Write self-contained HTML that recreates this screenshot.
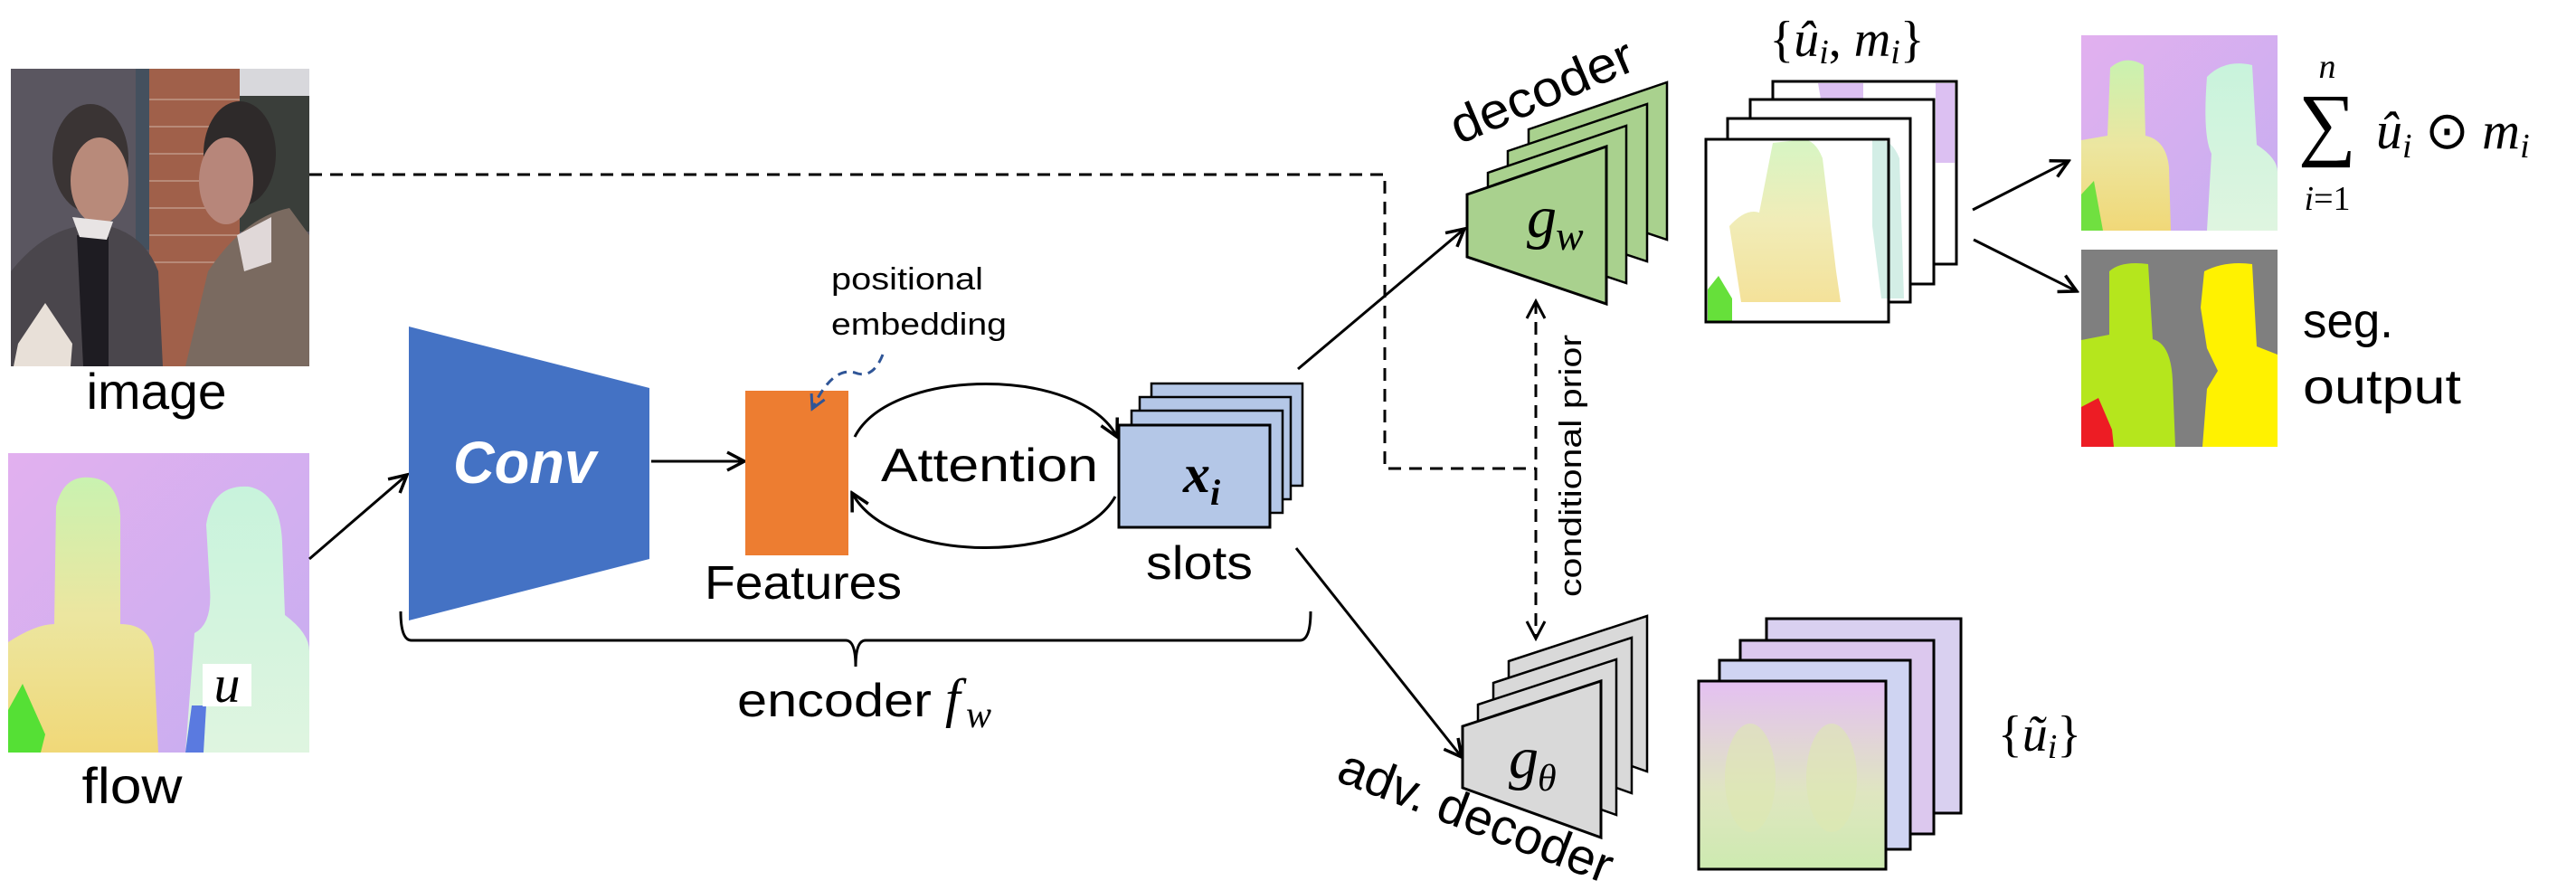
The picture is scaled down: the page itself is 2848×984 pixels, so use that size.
<!DOCTYPE html>
<html><head><meta charset="utf-8"><style>
html,body{margin:0;padding:0;background:#fff;}
svg{display:block;}
.t{font-family:"Liberation Sans",sans-serif;fill:#000;}
.m{font-family:"Liberation Serif",serif;font-style:italic;fill:#000;}
.r{font-family:"Liberation Serif",serif;fill:#000;}
</style></head><body>
<svg width="2848" height="984" viewBox="0 0 2848 984" xmlns="http://www.w3.org/2000/svg">
<defs>
<marker id="ahb" markerWidth="24" markerHeight="24" refX="21" refY="12" orient="auto" markerUnits="userSpaceOnUse">
<path d="M2,2 L21,12 L2,22" fill="none" stroke="#000" stroke-width="3.5"/></marker>
<marker id="ahs" markerWidth="24" markerHeight="24" refX="21" refY="12" orient="auto-start-reverse" markerUnits="userSpaceOnUse">
<path d="M2,2 L21,12 L2,22" fill="none" stroke="#000" stroke-width="3"/></marker>
<marker id="ahblue" markerWidth="20" markerHeight="20" refX="17" refY="10" orient="auto" markerUnits="userSpaceOnUse">
<path d="M2,2 L17,10 L2,18" fill="none" stroke="#2F5597" stroke-width="3"/></marker>
<linearGradient id="flowbg" x1="0" y1="0" x2="1" y2="1">
<stop offset="0" stop-color="#e2b0ef"/><stop offset="1" stop-color="#c6aef0"/></linearGradient>
<linearGradient id="body1" x1="0" y1="0" x2="0" y2="1">
<stop offset="0" stop-color="#c9f2b0"/><stop offset="0.5" stop-color="#ece6a0"/><stop offset="1" stop-color="#f0d878"/></linearGradient>
<linearGradient id="body2" x1="0" y1="0" x2="0" y2="1">
<stop offset="0" stop-color="#c8f3dc"/><stop offset="1" stop-color="#dff5e0"/></linearGradient>
<linearGradient id="pale2" x1="0" y1="0" x2="0" y2="1">
<stop offset="0" stop-color="#e4c0f2"/><stop offset="0.6" stop-color="#dfe6c0"/><stop offset="1" stop-color="#cdeab0"/></linearGradient>
</defs>

<!-- image photo -->
<g>
<rect x="12" y="76" width="330" height="329" fill="#5a5660"/>
<rect x="150" y="76" width="15" height="200" fill="#44505e"/>
<rect x="165" y="76" width="100" height="329" fill="#a0604a"/>
<g stroke="#d8c0b0" stroke-width="1.5" opacity="0.6">
<line x1="165" y1="110" x2="265" y2="110"/><line x1="165" y1="140" x2="265" y2="140"/><line x1="165" y1="170" x2="265" y2="170"/><line x1="165" y1="200" x2="265" y2="200"/><line x1="165" y1="230" x2="265" y2="230"/><line x1="165" y1="260" x2="265" y2="260"/><line x1="165" y1="290" x2="265" y2="290"/>
</g>
<rect x="265" y="76" width="77" height="30" fill="#d8d8dc"/>
<rect x="265" y="106" width="77" height="150" fill="#3a3e3a"/>
<ellipse cx="100" cy="175" rx="42" ry="60" fill="#3a3434"/>
<ellipse cx="110" cy="200" rx="32" ry="48" fill="#b88a7a"/>
<ellipse cx="265" cy="170" rx="40" ry="58" fill="#2e2a2a"/>
<ellipse cx="250" cy="200" rx="30" ry="48" fill="#b7867a"/>
<path d="M12,405 L12,300 Q60,240 120,250 Q160,260 175,300 L180,405 Z" fill="#4a464c"/>
<path d="M85,260 L120,262 L120,405 L92,405 Z" fill="#1e1c22"/>
<path d="M80,240 L125,245 L118,265 L88,262 Z" fill="#e8e4e4"/>
<path d="M205,405 L230,300 Q270,240 320,230 L342,260 L342,405 Z" fill="#7a6a60"/>
<path d="M262,260 L300,240 L300,290 L270,300 Z" fill="#e0d8d8"/>
<path d="M15,405 L20,380 L50,335 L80,380 L78,405 Z" fill="#e8e0d8"/>
</g>
<text class="t" x="173" y="452" font-size="56" text-anchor="middle" textLength="155" lengthAdjust="spacingAndGlyphs">image</text>

<!-- flow -->
<g>
<rect x="9" y="501" width="333" height="331" fill="url(#flowbg)"/>
<path d="M9,832 L9,710 Q40,690 60,690 L62,560 Q70,525 100,528 Q130,530 133,570 L133,690 Q165,690 170,720 L175,832 Z" fill="url(#body1)"/>
<path d="M205,832 L215,700 Q235,690 232,650 L228,580 Q235,535 275,538 Q310,545 312,600 L315,680 Q342,700 342,720 L342,832 Z" fill="url(#body2)"/>
<path d="M9,832 L9,785 L25,756 L50,812 L45,832 Z" fill="#55e035"/>
<path d="M205,832 L212,780 L228,780 L225,832 Z" fill="#5a7ae0"/>
<rect x="224" y="734" width="54" height="47" fill="#fff"/>
</g>
<text class="m" x="251" y="776" font-size="58" text-anchor="middle">u</text>
<text class="t" x="146" y="888" font-size="56" text-anchor="middle" textLength="111" lengthAdjust="spacingAndGlyphs">flow</text>

<line x1="342" y1="618" x2="450" y2="525" stroke="#000" stroke-width="3" marker-end="url(#ahb)"/>

<!-- Conv -->
<polygon points="452,361 718,429 718,618 452,686" fill="#4472C4"/>
<text x="580" y="534" font-family="Liberation Sans,sans-serif" font-weight="bold" font-style="italic" font-size="66" fill="#fff" text-anchor="middle" textLength="158" lengthAdjust="spacingAndGlyphs">Conv</text>
<line x1="720" y1="510" x2="823" y2="510" stroke="#000" stroke-width="3" marker-end="url(#ahb)"/>

<!-- Features -->
<rect x="824" y="432" width="114" height="182" fill="#ED7D31"/>
<text class="t" x="888" y="662" font-size="52" text-anchor="middle" textLength="218" lengthAdjust="spacingAndGlyphs">Features</text>
<text class="t" x="919" y="320" font-size="34" textLength="168" lengthAdjust="spacingAndGlyphs">positional</text>
<text class="t" x="919" y="370" font-size="34" textLength="194" lengthAdjust="spacingAndGlyphs">embedding</text>
<path d="M976,392 Q965,420 945,412 Q920,405 898,452" fill="none" stroke="#2F5597" stroke-width="3" stroke-dasharray="10,7" marker-end="url(#ahblue)"/>

<!-- Attention arcs -->
<path d="M945,483 C985,405 1195,405 1235,483" fill="none" stroke="#000" stroke-width="3" marker-end="url(#ahb)"/>
<path d="M1233,549 C1190,625 985,625 942,545" fill="none" stroke="#000" stroke-width="3" marker-end="url(#ahb)"/>
<text class="t" x="1094" y="532" font-size="52" text-anchor="middle" textLength="240" lengthAdjust="spacingAndGlyphs">Attention</text>

<!-- slots -->
<g fill="#B4C7E7" stroke="#000" stroke-width="2.5">
<rect x="1273" y="424" width="167" height="113"/>
<rect x="1260" y="439" width="167" height="113"/>
<rect x="1251" y="454" width="167" height="113"/>
<rect x="1237" y="470" width="167" height="113" stroke-width="3"/>
</g>
<text x="1308" y="544" font-family="Liberation Serif,serif" font-weight="bold" font-style="italic" font-size="60">x</text>
<text x="1338" y="558" font-family="Liberation Serif,serif" font-weight="bold" font-style="italic" font-size="40">i</text>
<text class="t" x="1326" y="640" font-size="52" text-anchor="middle" textLength="118" lengthAdjust="spacingAndGlyphs">slots</text>

<!-- brace -->
<path d="M443,676 Q443,708 455,708 L935,708 Q946,708 946,737 M946,737 Q946,708 957,708 L1437,708 Q1449,708 1449,676" fill="none" stroke="#000" stroke-width="3"/>
<text class="t" x="815" y="792" font-size="52" textLength="215" lengthAdjust="spacingAndGlyphs">encoder</text>
<text class="m" x="1045" y="792" font-size="60">f</text>
<text class="m" x="1068" y="804" font-size="42">w</text>

<!-- dashed path -->
<path d="M342,193 L1531,193 L1531,518 L1698,518" fill="none" stroke="#000" stroke-width="3" stroke-dasharray="14,9"/>
<line x1="1698" y1="333" x2="1698" y2="706" stroke="#000" stroke-width="3" stroke-dasharray="14,9" marker-start="url(#ahs)" marker-end="url(#ahs)"/>
<text class="t" transform="translate(1748,515) rotate(-90)" font-size="34" text-anchor="middle" textLength="290" lengthAdjust="spacingAndGlyphs">conditional prior</text>

<line x1="1435" y1="408" x2="1619" y2="253" stroke="#000" stroke-width="3" marker-end="url(#ahb)"/>
<line x1="1433" y1="606" x2="1616" y2="837" stroke="#000" stroke-width="3" marker-end="url(#ahb)"/>

<!-- decoder green -->
<g fill="#A9D18E" stroke="#000" stroke-width="2.5">
<polygon points="1690,143 1843,91 1843,265 1690,214"/>
<polygon points="1667,167 1821,115 1821,289 1667,238"/>
<polygon points="1645,191 1798,139 1798,313 1645,262"/>
<polygon points="1622,215 1776,162 1776,336 1622,284" stroke-width="3"/>
</g>
<text class="m" x="1688" y="262" font-size="66">g</text>
<text class="m" x="1720" y="276" font-size="46">w</text>
<text class="t" transform="translate(1712,118) rotate(-23)" font-size="56" text-anchor="middle" textLength="215" lengthAdjust="spacingAndGlyphs">decoder</text>

<!-- masked frames -->
<g stroke="#000" stroke-width="3">
<rect x="1960" y="90" width="203" height="202" fill="#fff"/>
<path d="M1962,92 L2161,92 L2161,180 L2140,180 L2140,92 L2060,92 L2060,150 L2020,150 L2010,92 Z" fill="#dcc0f2" stroke="none"/>
<rect x="1935" y="110" width="203" height="204" fill="#fff"/>
<rect x="1910" y="131" width="202" height="203" fill="#fff"/>
<rect x="1886" y="154" width="202" height="202" fill="#fff"/>
</g>
<path d="M1987,155 Q2005,150 2015,175 L2030,300 L2035,334 L1925,334 L1912,250 Q1930,230 1945,235 L1960,158 Z" fill="url(#body1)" opacity="0.75"/>
<path d="M2070,155 Q2090,150 2100,175 L2105,330 L2080,330 L2070,250 Z" fill="#c8eae0" opacity="0.8"/>
<path d="M1888,356 L1888,320 L1900,305 L1915,330 L1915,356 Z" fill="#66e03a"/>
<rect x="1886" y="154" width="202" height="202" fill="none" stroke="#000" stroke-width="3"/>
<text class="r" x="2042" y="62" font-size="56" text-anchor="middle">{<tspan font-style="italic">û</tspan><tspan font-style="italic" font-size="38" dy="8">i</tspan><tspan dy="-8">, </tspan><tspan font-style="italic">m</tspan><tspan font-style="italic" font-size="38" dy="8">i</tspan><tspan dy="-8">}</tspan></text>

<line x1="2181" y1="232" x2="2287" y2="178" stroke="#000" stroke-width="3" marker-end="url(#ahb)"/>
<line x1="2182" y1="265" x2="2296" y2="322" stroke="#000" stroke-width="3" marker-end="url(#ahb)"/>

<!-- flow output -->
<rect x="2301" y="39" width="217" height="216" fill="url(#flowbg)"/>
<path d="M2301,255 L2301,155 L2330,150 L2333,75 Q2350,60 2370,72 L2372,150 Q2395,155 2398,185 L2400,255 Z" fill="url(#body1)"/>
<path d="M2440,255 L2445,170 Q2435,150 2440,85 Q2460,65 2490,72 L2495,160 Q2518,175 2518,190 L2518,255 Z" fill="url(#body2)"/>
<path d="M2301,255 L2301,215 L2315,200 L2325,255 Z" fill="#70e040"/>

<!-- sum formula -->
<text class="m" x="2573" y="86" font-size="38" text-anchor="middle">n</text>
<text class="r" x="2573" y="166" font-size="90" text-anchor="middle">∑</text>
<text class="m" x="2573" y="232" font-size="38" text-anchor="middle">i<tspan font-style="normal">=1</tspan></text>
<text class="m" x="2627" y="164" font-size="58">û<tspan font-size="38" dy="10">i</tspan><tspan font-style="normal" dy="-10"> ⊙ </tspan>m<tspan font-size="38" dy="10">i</tspan></text>

<!-- seg -->
<rect x="2301" y="276" width="217" height="218" fill="#7f7f7f"/>
<path d="M2301,494 L2301,376 L2332,370 L2332,300 Q2345,288 2375,292 L2380,375 Q2400,380 2402,420 L2405,494 Z" fill="#b5e61d"/>
<path d="M2435,494 L2440,430 L2452,410 L2440,385 L2433,340 L2437,300 Q2460,288 2490,292 L2495,383 L2518,392 L2518,494 Z" fill="#fff200"/>
<path d="M2301,494 L2301,450 L2320,440 L2335,475 L2337,494 Z" fill="#ed1c24"/>
<text class="t" x="2546" y="373" font-size="54" textLength="100" lengthAdjust="spacingAndGlyphs">seg.</text>
<text class="t" x="2546" y="446" font-size="54" textLength="175" lengthAdjust="spacingAndGlyphs">output</text>

<!-- adv decoder gray -->
<g fill="#D9D9D9" stroke="#000" stroke-width="2.5">
<polygon points="1668,731 1821,681 1821,853 1668,799"/>
<polygon points="1651,755 1804,705 1804,877 1651,823"/>
<polygon points="1634,779 1787,729 1787,901 1634,847"/>
<polygon points="1617,803 1770,753 1770,926 1617,871" stroke-width="3"/>
</g>
<text class="m" x="1668" y="860" font-size="66">g</text>
<text class="m" x="1700" y="874" font-size="42">θ</text>
<text class="t" transform="translate(1625,920) rotate(21)" font-size="56" text-anchor="middle" textLength="320" lengthAdjust="spacingAndGlyphs">adv. decoder</text>

<!-- adv frames -->
<g stroke="#000" stroke-width="3">
<rect x="1953" y="684" width="215" height="215" fill="#d9d0f0"/>
<rect x="1924" y="708" width="214" height="214" fill="#dcc8ee"/>
<rect x="1901" y="730" width="211" height="209" fill="#cfd4f2"/>
<rect x="1878" y="753" width="207" height="208" fill="url(#pale2)"/>
</g>
<ellipse cx="1935" cy="860" rx="28" ry="60" fill="#dde8b0" opacity="0.6"/>
<ellipse cx="2025" cy="860" rx="28" ry="60" fill="#dde8b0" opacity="0.6"/>
<text class="r" x="2255" y="830" font-size="56" text-anchor="middle">{<tspan font-style="italic">ũ</tspan><tspan font-style="italic" font-size="38" dy="8">i</tspan><tspan dy="-8">}</tspan></text>
</svg>
</body></html>
